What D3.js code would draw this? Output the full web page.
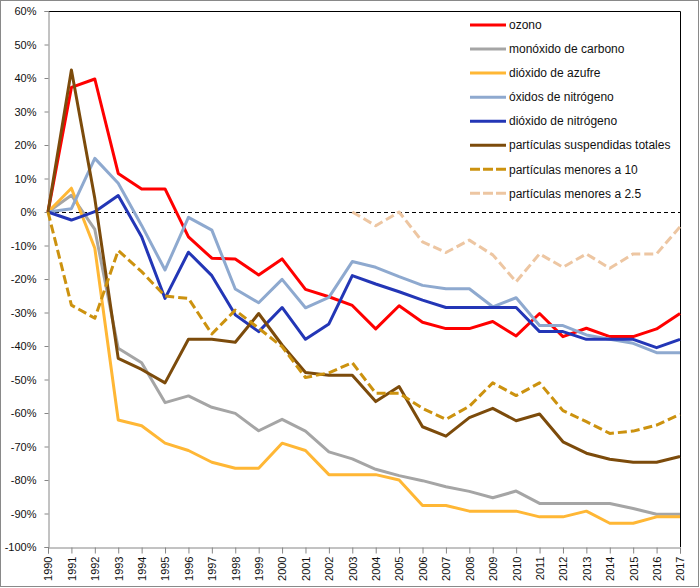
<!DOCTYPE html>
<html>
<head>
<meta charset="utf-8">
<script src="https://cdn.jsdelivr.net/npm/d3@7"></script>
<style>
  html, body { margin: 0; padding: 0; background: #fff; }
  svg { display: block; font-family: "Liberation Sans", Arial, sans-serif; }
</style>
</head>
<body>
<svg id="chart" width="700" height="588"></svg>
<script>
const years = [1990,1991,1992,1993,1994,1995,1996,1997,1998,1999,2000,2001,2002,2003,2004,2005,2006,2007,2008,2009,2010,2011,2012,2013,2014,2015,2016,2017];

const ozono = [0,37.2,39.7,11.5,6.9,6.9,-7.4,-13.8,-14,-18.8,-14,-23.1,-25.3,-27.9,-34.9,-28,-32.9,-34.8,-34.8,-32.7,-37,-30.3,-37.2,-34.7,-37.2,-37.2,-34.9,-30.3];
const monoxidoCarbono = [0,5,-5.2,-40.7,-45,-56.9,-54.9,-58.3,-60.1,-65.3,-61.9,-65.4,-71.6,-73.7,-76.8,-78.7,-80.2,-82,-83.4,-85.3,-83.3,-87,-87,-87,-87,-88.5,-90.2,-90.2];
const dioxidoAzufre = [0,7.1,-10.8,-62.1,-63.8,-69,-71.2,-74.7,-76.5,-76.5,-69,-71.2,-78.4,-78.4,-78.4,-80,-87.6,-87.6,-89.3,-89.3,-89.3,-91,-91,-89.3,-92.9,-92.9,-91,-91];
const oxidosNitrogeno = [0,1,16,8.6,-4,-17.3,-1.6,-5.4,-23,-27.1,-20.1,-28.6,-25.5,-14.8,-16.5,-19.3,-21.9,-22.9,-22.9,-28.3,-25.6,-33.9,-33.9,-36.7,-38,-39.2,-42,-42];
const dioxidoNitrogeno = [0,-2.4,0.1,4.9,-7.4,-25.8,-12,-19,-30.7,-35.7,-28.5,-38,-33.4,-19,-21.5,-23.8,-26.3,-28.5,-28.5,-28.5,-28.5,-35.7,-35.7,-38,-38,-38,-40.5,-38];
const particulasTotales = [0,42.4,4,-43.7,-47,-51,-38,-38,-38.9,-30.3,-39.7,-47.9,-48.7,-48.7,-56.6,-52.1,-64.1,-66.9,-61.4,-58.6,-62.3,-60.3,-68.6,-72,-73.8,-74.7,-74.7,-73];
const particulas10 = [0,-27.8,-31.7,-11.5,-17.8,-25.1,-25.8,-36.4,-29.3,-34.7,-40.2,-49.4,-48,-45,-54.1,-54.1,-58.6,-61.9,-58,-51,-54.8,-51,-59.3,-62.6,-66.1,-65.4,-63.6,-60.4];
const particulas25 = [null,null,null,null,null,null,null,null,null,null,null,null,null,0,-4.1,0,-8.9,-12.1,-8.4,-12.8,-20.8,-12.5,-16.5,-12.5,-16.8,-12.5,-12.5,-4.4];

const seriesNames = ["ozono","monóxido de carbono","dióxido de azufre","óxidos de nitrógeno","dióxido de nitrógeno","partículas suspendidas totales","partículas menores a 10","partículas menores a 2.5"];
const yTicks = [60,50,40,30,20,10,0,-10,-20,-30,-40,-50,-60,-70,-80,-90,-100];

const seriesValues = [ozono, monoxidoCarbono, dioxidoAzufre, oxidosNitrogeno, dioxidoNitrogeno, particulasTotales, particulas10, particulas25];
const colors = ["#FF0000","#A5A5A5","#FFB735","#8EA9CF","#2336B6","#7C4B0B","#CC920F","#EDC6A2"];
const dashes = [null,null,null,null,null,null,"9,4","9,4"];

const svg = d3.select("#chart");
const mLeft = 48, mRight = 680, mTop = 11, mBottom = 547;

// outer border
svg.append("rect").attr("x",0.5).attr("y",0.5).attr("width",698).attr("height",586)
  .attr("fill","#fff").attr("stroke","#898989").attr("stroke-width",1);

const x = d3.scaleLinear().domain([1990,2017]).range([mLeft,mRight]);
const y = d3.scaleLinear().domain([-100,60]).range([mBottom,mTop]);

// plot border top & right (black)
svg.append("path")
  .attr("d", `M${mLeft},${mTop+0.5}H${mRight+0.5}V${mBottom}`)
  .attr("fill","none").attr("stroke","#000").attr("stroke-width",1);

// zero line
svg.append("line")
  .attr("x1",mLeft).attr("x2",mRight)
  .attr("y1",Math.round(y(0))+0.5).attr("y2",Math.round(y(0))+0.5)
  .attr("stroke","#000").attr("stroke-width",1).attr("stroke-dasharray","4,3");

// Y axis
const yAxis = d3.axisLeft(y).tickValues(yTicks).tickSize(4).tickPadding(8)
  .tickFormat(d => d + "%");
const gy = svg.append("g").attr("transform",`translate(${mLeft+0.5},0)`).call(yAxis);
gy.select(".domain").attr("stroke","#868686");
gy.selectAll(".tick line").attr("stroke","#868686");
gy.selectAll(".tick text").attr("font-size","11px").attr("fill","#111")
  .attr("font-family","'Liberation Sans', Arial, sans-serif");

// X axis
const xAxis = d3.axisBottom(x).tickValues(years).tickSize(6).tickFormat(d => String(d));
const gx = svg.append("g").attr("transform",`translate(0,${mBottom+0.5})`).call(xAxis);
gx.select(".domain").attr("stroke","#868686");
gx.selectAll(".tick line").attr("stroke","#868686");
gx.selectAll(".tick text")
  .attr("font-size","11px").attr("fill","#111")
  .attr("font-family","'Liberation Sans', Arial, sans-serif")
  .attr("text-anchor","end")
  .attr("dy","0.35em")
  .attr("transform","translate(0,9) rotate(-90)")
  .attr("x",0).attr("y",0);

// lines
const line = d3.line()
  .defined(d => d.v !== null)
  .x(d => x(d.year))
  .y(d => y(d.v));

seriesValues.forEach((vals, i) => {
  const data = years.map((yr, j) => ({year: yr, v: vals[j]}));
  const p = svg.append("path")
    .datum(data)
    .attr("fill","none")
    .attr("stroke",colors[i])
    .attr("stroke-width",3)
    .attr("stroke-linejoin","round")
    .attr("d",line);
  if (dashes[i]) p.attr("stroke-dasharray",dashes[i]);
});

// legend
const lg = svg.append("g");
seriesNames.forEach((name, i) => {
  const yy = 25 + i * 24.05;
  const l = lg.append("line").attr("x1",470).attr("x2",506).attr("y1",yy).attr("y2",yy)
    .attr("stroke",colors[i]).attr("stroke-width",3);
  if (dashes[i]) l.attr("stroke-dasharray","10,3");
  lg.append("text").attr("x",509).attr("y",yy).attr("dy","0.35em")
    .attr("font-size","12px").attr("fill","#111").text(name);
});
</script>
</body>
</html>
